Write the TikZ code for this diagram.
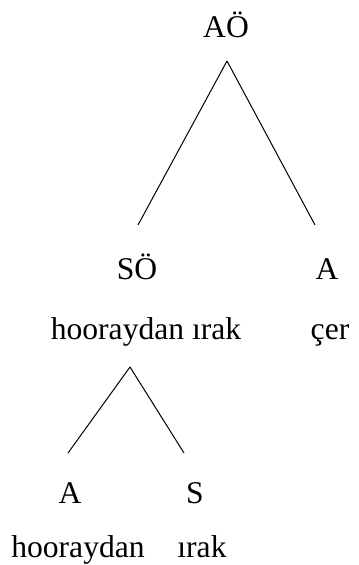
\documentclass[tikz,border=0pt]{standalone}
\usepackage{fontspec}
\setmainfont{Liberation Serif}
\usepackage{tikz}
\usetikzlibrary{calc}
\definecolor{ink}{HTML}{000000}
\tikzset{
  cat/.style={font=\fontsize{15.8pt}{18pt}\selectfont,text=ink,inner sep=0pt,anchor=base},
  gloss/.style={cat},
  branch/.style={draw=ink,line width=0.5pt},
}
\begin{document}
\begin{tikzpicture}[x=0.5pt,y=-0.5pt]
    \useasboundingbox (0,0) rectangle (358,565);
    % upper level
    \node[cat] (AO) at (226,38) {AÖ};
    \node[cat] (SO) at (137,280) {SÖ};
    \node[cat] (A1) at (327,280) {A};
    \node[gloss] (G1) at (146,340) {hooraydan ırak};
    \node[gloss] (G2) at (330,340) {çer};
    % lower level
    \node[cat] (A2) at (70,503) {A};
    \node[cat] (S2) at (195,503) {S};
    \node[gloss] (G3) at (78,557) {hooraydan};
    \node[gloss] (G4) at (202,557) {ırak};
    % branches
    \draw[branch] ($(AO.base)+(1,23)$) -- ($(SO.base)+(1,-55)$);
    \draw[branch] ($(AO.base)+(1,23)$) -- ($(A1.base)+(-12,-55)$);
    \draw[branch] ($(SO.base)+(-7,87)$) -- ($(A2.base)+(-2,-50)$);
    \draw[branch] ($(SO.base)+(-7,87)$) -- ($(S2.base)+(-11,-50)$);
\end{tikzpicture}
\end{document}
